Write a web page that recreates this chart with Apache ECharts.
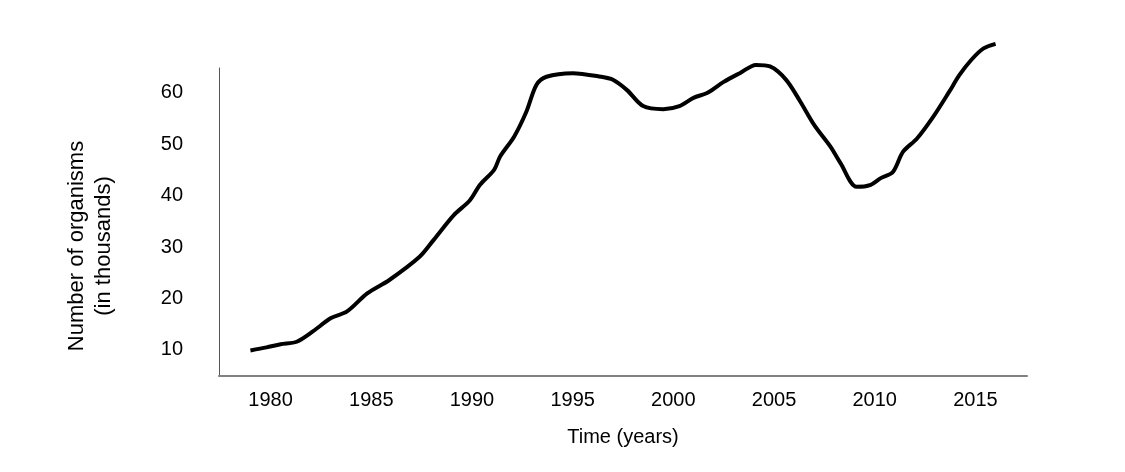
<!DOCTYPE html>
<html>
<head>
<meta charset="utf-8">
<title>Number of organisms over time</title>
<script src="https://cdn.jsdelivr.net/npm/echarts@6/dist/echarts.min.js"></script>
<style>
	html, body { margin: 0; padding: 0; background: #fff; }
	#main { width: 1125px; height: 472px; }
</style>
</head>
<body>
<div id="main"></div>
<script>
// values
var years = [
	1979.0, 1979.8, 1980.5, 1981.3, 1982.1, 1983.0, 1983.8, 1984.8, 1985.9, 1987.4,
	1988.1, 1989.1, 1989.9, 1990.4, 1991.1, 1991.4, 1992.1, 1992.7, 1993.2, 1993.7,
	1995.0, 1996.4, 1997.0, 1997.7, 1998.5, 1999.5, 2000.3, 2001.0, 2001.7, 2002.5,
	2003.3, 2004.1, 2004.8, 2005.6, 2006.3, 2007.0, 2007.8, 2008.3, 2009.1, 2009.8,
	2010.3, 2010.9, 2011.4, 2012.1, 2012.9, 2013.7, 2014.2, 2014.8, 2015.4, 2016.0
];
var organisms = [
	9.9, 10.5, 11.1, 11.6, 13.6, 16.2, 17.5, 21.0, 23.6, 28.1,
	31.4, 36.2, 39.1, 42.1, 45.0, 47.6, 51.5, 56.3, 61.5, 63.1,
	63.8, 63.1, 62.5, 60.5, 57.4, 56.8, 57.4, 59.0, 60.0, 62.1,
	63.8, 65.4, 65.1, 62.5, 58.3, 53.7, 49.5, 46.3, 41.7, 42.1,
	43.4, 44.6, 48.5, 51.1, 55.3, 60.2, 63.4, 66.4, 68.6, 69.5
];
var yearTicks = [1980, 1985, 1990, 1995, 2000, 2005, 2010, 2015];
var countTicks = [10, 20, 30, 40, 50, 60];

var FONT = '"Liberation Sans", Arial, sans-serif';

var seriesData = [];
for (var i = 0, l = years.length; i < l; i++) {
	seriesData.push([years[i], organisms[i]]);
}

var chart = echarts.init(document.getElementById('main'));

var option = {
	animation: false,
	backgroundColor: '#fff',
	grid: {
		left: 219,
		right: 98,
		top: 68,
		bottom: 96.5
	},
	xAxis: {
		type: 'value',
		min: 1977.44,
		max: 2017.56,
		name: 'Time (years)',
		nameLocation: 'middle',
		nameGap: 52,
		nameTextStyle: { color: '#000', fontSize: 20, fontFamily: FONT },
		axisLine: { show: true, lineStyle: { color: '#808080', width: 2 } },
		axisTick: { show: false },
		splitLine: { show: false },
		axisLabel: {
			customValues: yearTicks,
			formatter: function (v) { return String(v); },
			margin: 15,
			color: '#000',
			fontSize: 20,
			fontFamily: FONT
		}
	},
	yAxis: {
		type: 'value',
		min: 5.04,
		max: 64.8,
		axisLine: { show: true, lineStyle: { color: '#555', width: 1 } },
		axisTick: { show: false },
		splitLine: { show: false },
		axisLabel: {
			customValues: countTicks,
			margin: 36,
			color: '#000',
			fontSize: 20,
			fontFamily: FONT
		}
	},
	graphic: [
		{
			type: 'text',
			x: 90,
			y: 246,
			rotation: Math.PI / 2,
			style: {
				text: 'Number of organisms\n(in thousands)',
				fill: '#000',
				font: '22px ' + FONT,
				lineHeight: 27,
				align: 'center',
				verticalAlign: 'middle'
			}
		}
	],
	series: [
		{
			name: 'organisms',
			type: 'line',
			data: seriesData,
			showSymbol: false,
			clip: false,
			smooth: 0.3,
			lineStyle: { color: '#000', width: 4 }
		}
	]
};

chart.setOption(option);
</script>
</body>
</html>
